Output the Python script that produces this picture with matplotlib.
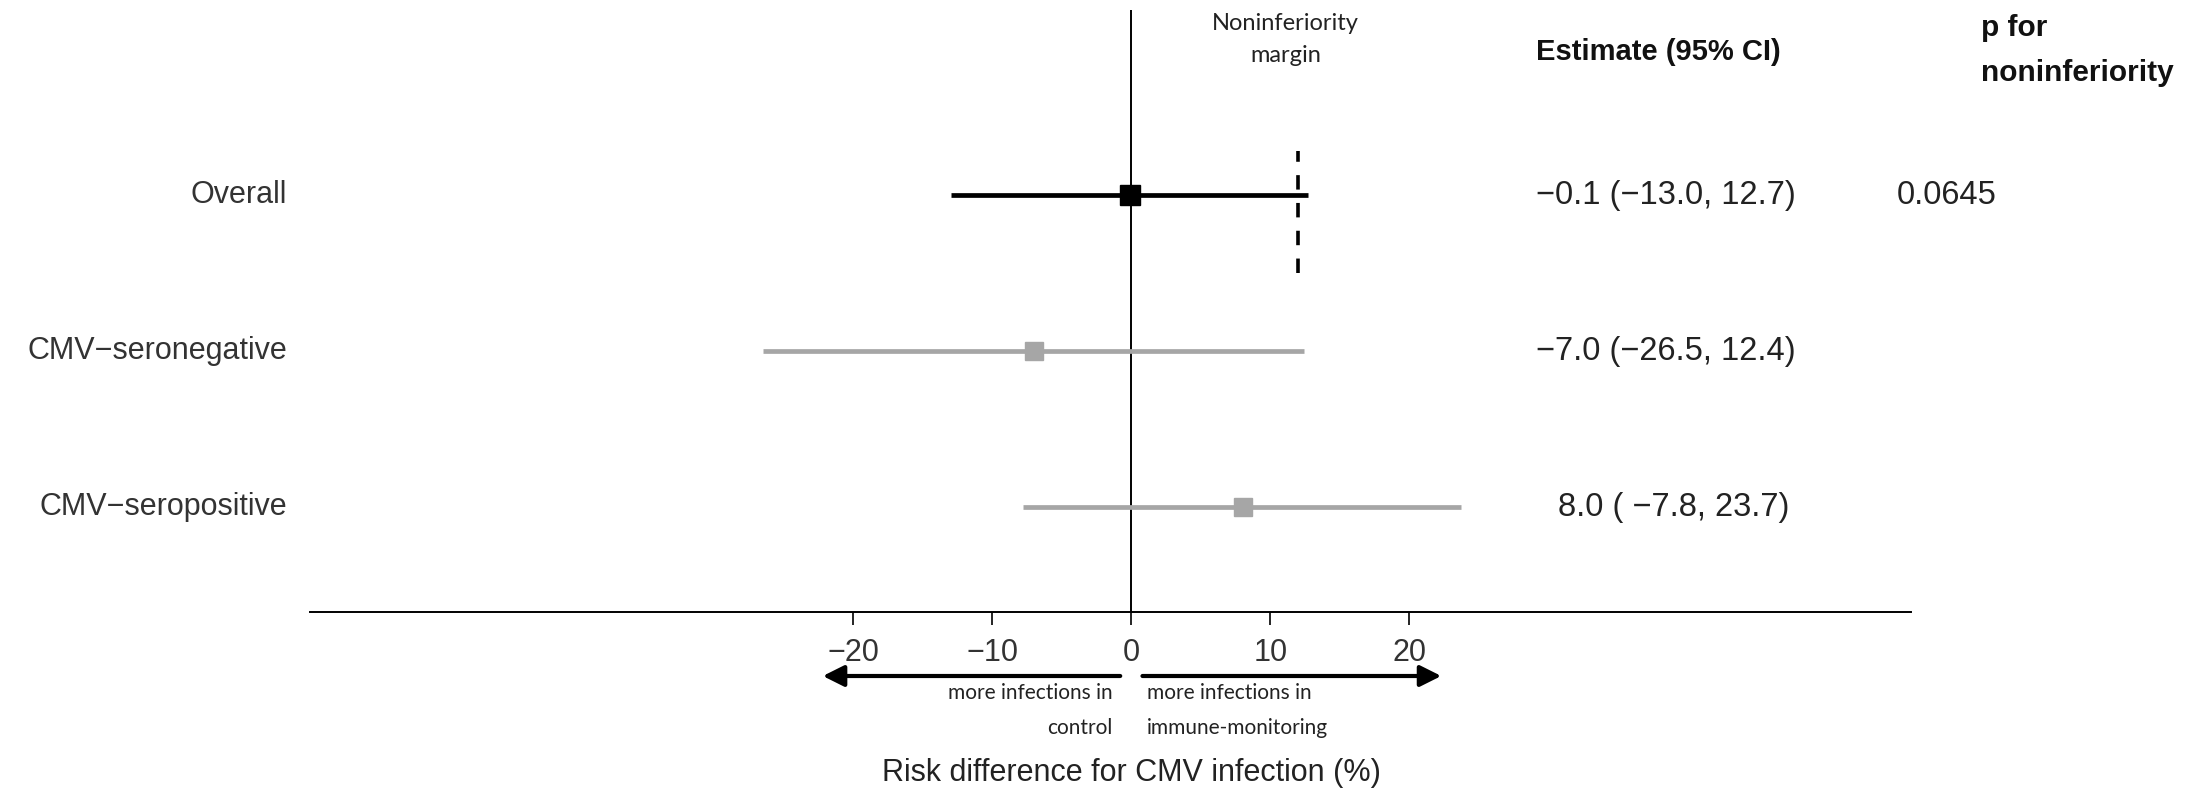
import matplotlib.pyplot as plt
import matplotlib.transforms as mtransforms

groups = ["Overall", "CMV\u2212seronegative", "CMV\u2212seropositive"]
estimates = [-0.1, -7.0, 8.0]
lower = [-13.0, -26.5, -7.8]
upper = [12.7, 12.4, 23.7]
est_text = ["\u22120.1 (\u221213.0, 12.7)", "\u22127.0 (\u221226.5, 12.4)", "8.0 ( \u22127.8, 23.7)"]
p_values = ["0.0645", "", ""]
margin = 12
xticks = [-20, -10, 0, 10, 20]

W, H = 2195, 793
fig = plt.figure(figsize=(W / 100, H / 100), dpi=100)
ax = fig.add_axes([310 / W, 1 - 612 / H, (1911 - 310) / W, (612 - 10) / H])

rows = [3, 2, 1]
colors = ["black", "#a6a6a6", "#a6a6a6"]
msizes = [15, 13, 13]

ax.axvline(0, color="black", lw=1.4, zorder=1)
for y, e, lo, hi, c, ms in zip(rows, estimates, lower, upper, colors, msizes):
    ax.plot([lo, hi], [y, y], color=c, lw=3.4, solid_capstyle="butt", zorder=2)
    ax.plot(e, y, marker="s", color=c, markersize=ms, zorder=3)

# noninferiority margin
ax.vlines(margin, 2.5, 3.28, color="black", lw=2.6, linestyles=(0, (4, 3.7)), zorder=4)

ax.set_xlim(-59.1, 56.1)
ax.set_ylim(0.327, 4.186)
for s in ["top", "right", "left"]:
    ax.spines[s].set_visible(False)
ax.spines["bottom"].set_linewidth(1.4)
ax.set_yticks([])
ax.set_xticks(xticks)
ax.set_xticklabels([f"{t}".replace("-", "\u2212") for t in xticks],
                   fontsize=22, color="#333333", family="Liberation Sans")
ax.tick_params(axis="x", length=9, width=1.2, pad=10)

arial = "Liberation Sans"
calib = "Lato"

# row labels, estimates, p values
tr_fig_data = mtransforms.blended_transform_factory(fig.transFigure, ax.transData)
for y, g, et, pv in zip(rows, groups, est_text, p_values):
    fig.text(287 / W, y, g, transform=tr_fig_data, ha="right", va="center",
             fontsize=22, color="#333333", family=arial)
    xoff = 1536 if not et.startswith("8") else 1558
    fig.text(xoff / W, y, et, transform=tr_fig_data, ha="left", va="center",
             fontsize=23.5, color="#222222", family=arial)
    if pv:
        fig.text(1897 / W, y, pv, transform=tr_fig_data, ha="left", va="center",
                 fontsize=23.5, color="#222222", family=arial)

# column headers
fig.text(1536 / W, 1 - 52 / H, "Estimate (95% CI)", ha="left", va="center",
         fontsize=21, fontweight="bold", color="#111111", family=arial)
fig.text(1981 / W, 1 - 28 / H, "p for", ha="left", va="center",
         fontsize=21.5, fontweight="bold", color="#111111", family=arial)
fig.text(1981 / W, 1 - 73 / H, "noninferiority", ha="left", va="center",
         fontsize=21.5, fontweight="bold", color="#111111", family=arial)

tr_data_fig = mtransforms.blended_transform_factory(ax.transData, fig.transFigure)
fig.text(11.1, 1 - 24 / H, "Noninferiority", transform=tr_data_fig, ha="center",
         va="center", fontsize=17, color="#222222", family=calib)
fig.text(11.1, 1 - 56 / H, "margin", transform=tr_data_fig, ha="center",
         va="center", fontsize=17, color="#222222", family=calib)

# direction arrows
ay = 1 - 676 / H
ax.annotate("", xy=(-22.2, ay), xytext=(-0.8, ay), xycoords=tr_data_fig,
            textcoords=tr_data_fig,
            arrowprops=dict(arrowstyle="-|>", lw=3, color="black", mutation_scale=32,
                            shrinkA=0, shrinkB=0), annotation_clip=False)
ax.annotate("", xy=(22.3, ay), xytext=(0.8, ay), xycoords=tr_data_fig,
            textcoords=tr_data_fig,
            arrowprops=dict(arrowstyle="-|>", lw=3, color="black", mutation_scale=32,
                            shrinkA=0, shrinkB=0), annotation_clip=False)

fig.text(1113 / W, 1 - 693 / H, "more infections in", ha="right", va="center",
         fontsize=15, color="#222222", family=calib)
fig.text(1113 / W, 1 - 728 / H, "control", ha="right", va="center",
         fontsize=15, color="#222222", family=calib)
fig.text(1147 / W, 1 - 693 / H, "more infections in", ha="left", va="center",
         fontsize=15, color="#222222", family=calib)
fig.text(1147 / W, 1 - 728 / H, "immune-monitoring", ha="left", va="center",
         fontsize=15, color="#222222", family=calib)

fig.text(0, 1 - 773 / H, "Risk difference for CMV infection (%)", transform=tr_data_fig,
         ha="center", va="center", fontsize=22, color="#222222", family=arial)

fig.savefig("out.png", dpi=100)
